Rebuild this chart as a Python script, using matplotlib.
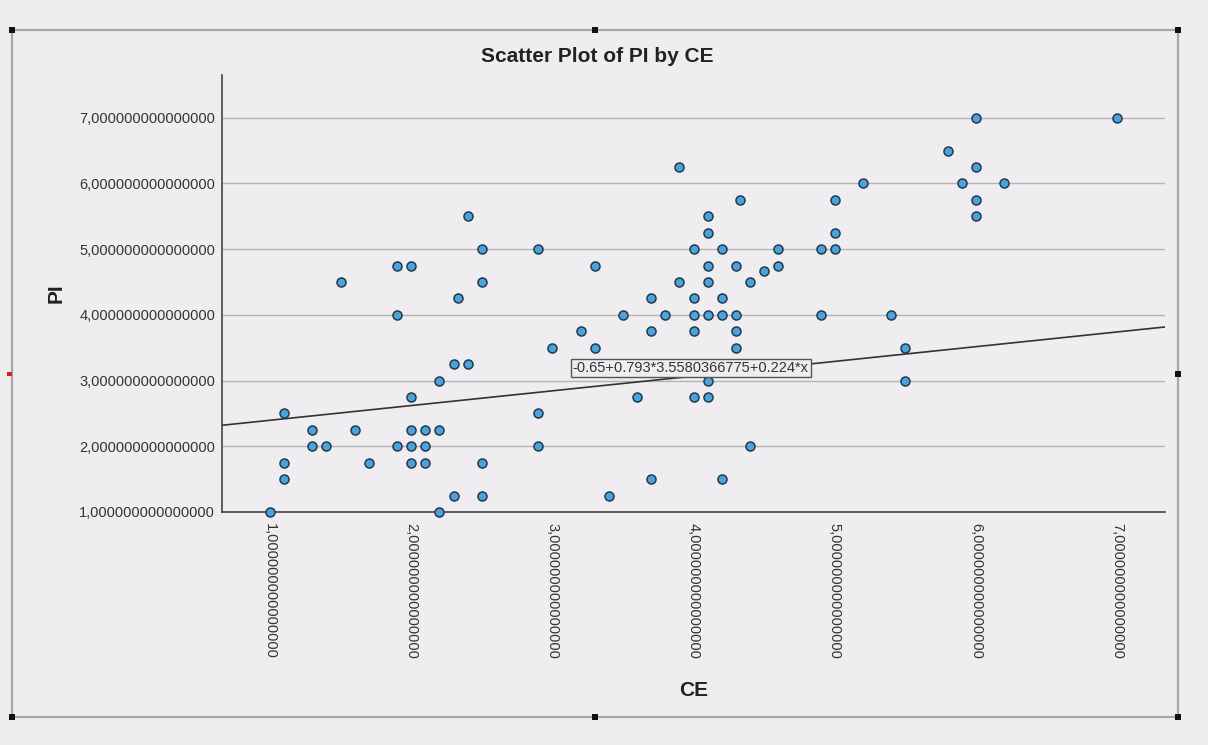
import matplotlib

matplotlib.use("Agg")
import matplotlib.pyplot as plt
from matplotlib.patches import Rectangle

# CE / PI observations
ce = [
    2.4, 2.5, 2.9, 1.9, 2.0, 1.5, 2.5, 2.33, 1.9, 2.3, 2.4, 2.2, 2.0, 1.1, 2.9,
    1.3, 1.6, 2.0, 2.1, 2.2, 1.3, 1.4, 1.9, 2.0, 2.1, 2.9, 1.1, 1.7, 2.0, 2.1,
    2.5, 1.1, 2.3, 2.5, 1.0, 2.2,
    3.9, 4.33, 5.0, 4.1, 4.1, 5.0, 4.0, 4.2, 4.6, 4.9, 5.0, 3.3, 4.1, 4.3, 4.6,
    4.5, 3.9, 4.1, 4.4, 3.7, 4.0, 4.2, 3.5, 3.8, 4.0, 4.1, 4.2, 4.3, 4.9, 3.2,
    3.7, 4.0, 4.3, 3.0, 3.3, 4.3, 4.1, 3.6, 4.0, 4.1, 4.4, 3.7, 4.2, 3.4,
    6.0, 7.0, 5.8, 6.0, 5.2, 5.9, 6.2, 6.0, 6.0, 5.4, 5.5, 5.5,
]
pi = [
    5.5, 5.0, 5.0, 4.75, 4.75, 4.5, 4.5, 4.25, 4.0, 3.25, 3.25, 3.0, 2.75, 2.5, 2.5,
    2.25, 2.25, 2.25, 2.25, 2.25, 2.0, 2.0, 2.0, 2.0, 2.0, 2.0, 1.75, 1.75, 1.75, 1.75,
    1.75, 1.5, 1.25, 1.25, 1.0, 1.0,
    6.25, 5.75, 5.75, 5.5, 5.25, 5.25, 5.0, 5.0, 5.0, 5.0, 5.0, 4.75, 4.75, 4.75, 4.75,
    4.67, 4.5, 4.5, 4.5, 4.25, 4.25, 4.25, 4.0, 4.0, 4.0, 4.0, 4.0, 4.0, 4.0, 3.75,
    3.75, 3.75, 3.75, 3.5, 3.5, 3.5, 3.0, 2.75, 2.75, 2.75, 2.0, 1.5, 1.5, 1.25,
    7.0, 7.0, 6.5, 6.25, 6.0, 6.0, 6.0, 5.75, 5.5, 4.0, 3.5, 3.0,
]

ticks = [1, 2, 3, 4, 5, 6, 7]
fit_const = -0.65 + 0.793 * 3.5580366775
fit_slope = 0.224
fit_label = "-0.65+0.793*3.5580366775+0.224*x"

BG = "#efedf0"
FONT = "Liberation Sans"


def fmt(v):
    return f"{v:.15f}".replace(".", ",")


fig = plt.figure(figsize=(12.08, 7.45), dpi=100, facecolor=BG)
ax = fig.add_axes([0.1838, 0.3128, 0.7806, 0.5865])
ax.set_facecolor(BG)

xlim = (0.66, 7.34)
ax.set_xlim(*xlim)
ax.set_ylim(1.0, 7.65)

for t in ticks:
    ax.axhline(t, color="#b4b4b4", linewidth=1.0, zorder=1)

ax.plot(list(xlim), [fit_const + fit_slope * x for x in xlim],
        color="#333333", linewidth=1.2, zorder=2)

ax.scatter(ce, pi, s=42, facecolor="#4ba3dc", edgecolor="#23394d",
           linewidth=1.1, zorder=3, clip_on=False)

ax.text(3.98, fit_const + fit_slope * 3.98 + 0.13, fit_label,
        fontsize=10.5, family=FONT, color="#333333", ha="center", va="center",
        zorder=4,
        bbox=dict(boxstyle="square,pad=0.15", facecolor=BG,
                  edgecolor="#555555", linewidth=1.0))

for side in ("top", "right"):
    ax.spines[side].set_visible(False)
for side in ("left", "bottom"):
    ax.spines[side].set_color("#444444")
    ax.spines[side].set_linewidth(1.2)

ax.set_xticks(ticks)
ax.set_xticklabels([fmt(t) for t in ticks], rotation=270, family=FONT,
                   fontsize=10.5, color="#333333")
ax.set_yticks(ticks)
ax.set_yticklabels([fmt(t) for t in ticks], family=FONT, fontsize=10.5,
                   color="#333333")
ax.tick_params(axis="y", length=0, pad=5)
ax.tick_params(axis="x", length=0, pad=8)

fig.text(597 / 1208, 1 - 57 / 745, "Scatter Plot of PI by CE", fontsize=15,
         fontweight="bold", family=FONT, color="#222222",
         ha="center", va="center")
ax.set_xlabel("CE", fontsize=15, fontweight="bold", family=FONT,
              color="#222222", labelpad=16)
ax.set_ylabel("PI", fontsize=15, fontweight="bold", family=FONT,
              color="#222222", labelpad=10)

# chart frame with selection handles
W, H = 1208, 745
x0, y0, x1, y1 = 12, 30, 1178, 717
fig.add_artist(Rectangle((x0 / W, 1 - y1 / H), (x1 - x0) / W, (y1 - y0) / H,
                         transform=fig.transFigure, fill=False,
                         edgecolor="#a8a8a8", linewidth=1.6))
xm = (x0 + x1) / 2
ym = (y0 + y1) / 2
handles = [(x0, y0), (xm, y0), (x1, y0), (x0, y1), (xm, y1), (x1, y1), (x1, ym)]
for hx, hy in handles:
    fig.add_artist(Rectangle(((hx - 3) / W, 1 - (hy + 3) / H), 6 / W, 6 / H,
                             transform=fig.transFigure, facecolor="#111111",
                             edgecolor="none"))
fig.add_artist(Rectangle(((x0 - 5) / W, 1 - (ym + 2) / H), 5 / W, 4 / H,
                         transform=fig.transFigure, facecolor="#d62020",
                         edgecolor="none"))

fig.savefig("out.png", dpi=100, facecolor=BG)
